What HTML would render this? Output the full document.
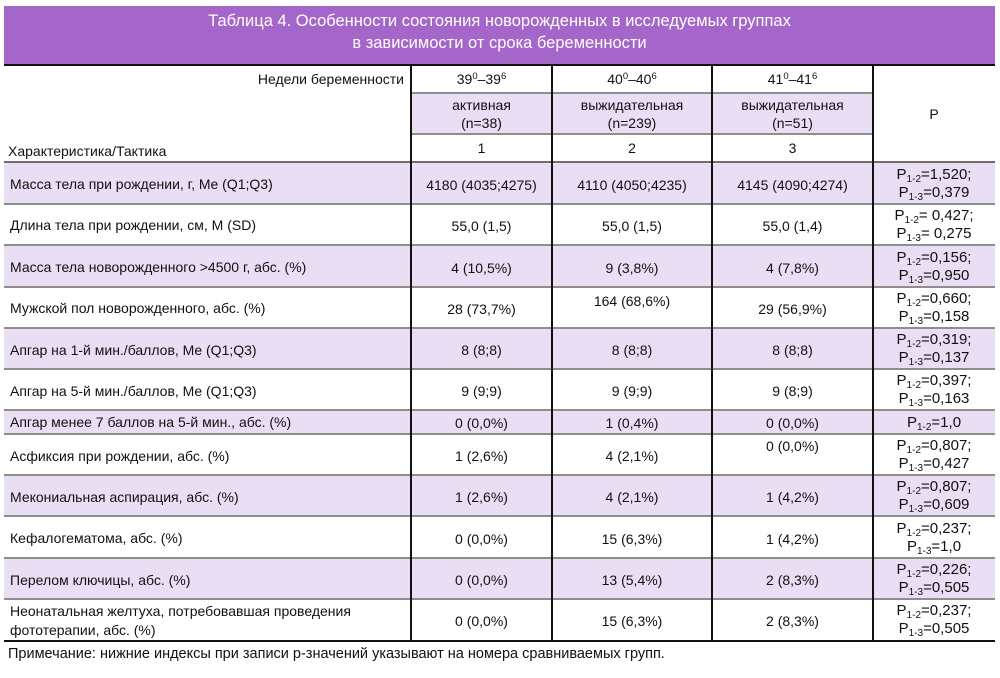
<!DOCTYPE html>
<html><head><meta charset="utf-8">
<style>
*{margin:0;padding:0;box-sizing:border-box}
html,body{width:1000px;height:678px;background:#fff;overflow:hidden}
body{position:relative;font-family:"Liberation Sans","DejaVu Sans",sans-serif;font-size:14px;color:#111}
.a{position:absolute}
.hdr{left:4px;top:6px;width:991px;height:58px;background:#a566c9;color:#fff;font-size:16.5px;text-align:center;line-height:22px;padding-top:4px}
.bk{background:#111}
.gl{background:#8e8e8e;height:2px}
.lav{background:#e9def3}
.c{position:absolute;display:flex;align-items:center;justify-content:center;text-align:center;line-height:18px}
.l{position:absolute;display:flex;align-items:center;line-height:19px;padding-left:6px}
.c span,.l span{display:block}
.p{line-height:18px;font-size:15px}
sub{font-size:9.5px;vertical-align:-3px;line-height:0}
.p sub{font-size:10px}
sup{font-size:9.5px;vertical-align:5px;line-height:0}
</style></head><body>
<div class="a hdr">Таблица 4. Особенности состояния новорожденных в исследуемых группах<br>в зависимости от срока беременности</div>
<div class="a bk" style="left:4px;top:64px;width:991px;height:2px"></div>

<div class="a lav" style="left:411px;top:93px;width:462px;height:41px"></div>
<div class="a lav" style="left:4px;top:162px;width:991px;height:42px"></div>
<div class="a lav" style="left:4px;top:245px;width:991px;height:42px"></div>
<div class="a lav" style="left:4px;top:328px;width:991px;height:41px"></div>
<div class="a lav" style="left:4px;top:410px;width:991px;height:24px"></div>
<div class="a lav" style="left:4px;top:475px;width:991px;height:41px"></div>
<div class="a lav" style="left:4px;top:558px;width:991px;height:41px"></div>

<div class="a gl" style="left:411px;top:92px;width:462px"></div>
<div class="a gl" style="left:411px;top:133px;width:462px"></div>
<div class="a gl" style="left:4px;top:161px;width:991px;background:#6e6e6e"></div>
<div class="a gl" style="left:4px;top:203px;width:991px"></div>
<div class="a gl" style="left:4px;top:244px;width:991px"></div>
<div class="a gl" style="left:4px;top:286px;width:991px"></div>
<div class="a gl" style="left:4px;top:327px;width:991px"></div>
<div class="a gl" style="left:4px;top:368px;width:991px"></div>
<div class="a gl" style="left:4px;top:409px;width:991px"></div>
<div class="a gl" style="left:4px;top:433px;width:991px"></div>
<div class="a gl" style="left:4px;top:474px;width:991px"></div>
<div class="a gl" style="left:4px;top:515px;width:991px"></div>
<div class="a gl" style="left:4px;top:557px;width:991px"></div>
<div class="a gl" style="left:4px;top:598px;width:991px"></div>

<div class="a bk" style="left:4px;top:640px;width:991px;height:2px"></div>
<div class="a bk" style="left:410px;top:66px;width:2px;height:575px"></div>
<div class="a bk" style="left:551px;top:66px;width:2px;height:575px"></div>
<div class="a bk" style="left:711px;top:66px;width:2px;height:575px"></div>
<div class="a bk" style="left:872px;top:66px;width:2px;height:575px"></div>

<div class="c" style="left:4px;top:66px;width:400px;height:26px;justify-content:flex-end"><span>Недели беременности</span></div>
<div class="c" style="left:412px;top:66px;width:139px;height:26px"><span>39<sup>0</sup>–39<sup>6</sup></span></div>
<div class="c" style="left:553px;top:66px;width:158px;height:26px"><span>40<sup>0</sup>–40<sup>6</sup></span></div>
<div class="c" style="left:713px;top:66px;width:159px;height:26px"><span>41<sup>0</sup>–41<sup>6</sup></span></div>
<div class="c" style="left:412px;top:94px;width:139px;height:40px"><span>активная<br>(n=38)</span></div>
<div class="c" style="left:553px;top:94px;width:158px;height:40px"><span>выжидательная<br>(n=239)</span></div>
<div class="c" style="left:713px;top:94px;width:159px;height:40px"><span>выжидательная<br>(n=51)</span></div>
<div class="c" style="left:412px;top:134px;width:139px;height:28px"><span>1</span></div>
<div class="c" style="left:553px;top:134px;width:158px;height:28px"><span>2</span></div>
<div class="c" style="left:713px;top:134px;width:159px;height:28px"><span>3</span></div>
<div class="c" style="left:874px;top:66px;width:120px;height:96px"><span>P</span></div>
<div class="l" style="left:2px;top:138px;width:400px;height:26px"><span>Характеристика/Тактика</span></div>

<div class="l" style="left:4px;top:164px;width:406px;height:41px"><span>Масса тела при рождении, г, Me (Q1;Q3)</span></div>
<div class="c" style="left:412px;top:164px;width:139px;height:41px"><span>4180 (4035;4275)</span></div>
<div class="c" style="left:553px;top:164px;width:158px;height:41px"><span>4110 (4050;4235)</span></div>
<div class="c" style="left:713px;top:164px;width:159px;height:41px"><span>4145 (4090;4274)</span></div>
<div class="c p" style="left:874px;top:163px;width:120px;height:41px"><span>P<sub>1-2</sub>=1,520;<br>P<sub>1-3</sub>=0,379</span></div>

<div class="l" style="left:4px;top:205px;width:406px;height:41px"><span>Длина тела при рождении, см, M (SD)</span></div>
<div class="c" style="left:412px;top:205px;width:139px;height:41px"><span>55,0 (1,5)</span></div>
<div class="c" style="left:553px;top:205px;width:158px;height:41px"><span>55,0 (1,5)</span></div>
<div class="c" style="left:713px;top:205px;width:159px;height:41px"><span>55,0 (1,4)</span></div>
<div class="c p" style="left:874px;top:204px;width:120px;height:41px"><span>P<sub>1-2</sub>= 0,427;<br>P<sub>1-3</sub>= 0,275</span></div>

<div class="l" style="left:4px;top:247px;width:406px;height:41px"><span>Масса тела новорожденного &gt;4500 г, абс. (%)</span></div>
<div class="c" style="left:412px;top:247px;width:139px;height:41px"><span>4 (10,5%)</span></div>
<div class="c" style="left:553px;top:247px;width:158px;height:41px"><span>9 (3,8%)</span></div>
<div class="c" style="left:713px;top:247px;width:159px;height:41px"><span>4 (7,8%)</span></div>
<div class="c p" style="left:874px;top:246px;width:120px;height:41px"><span>P<sub>1-2</sub>=0,156;<br>P<sub>1-3</sub>=0,950</span></div>

<div class="l" style="left:4px;top:288px;width:406px;height:41px"><span>Мужской пол новорожденного, абс. (%)</span></div>
<div class="c" style="left:412px;top:288px;width:139px;height:41px"><span>28 (73,7%)</span></div>
<div class="c" style="left:553px;top:287px;width:158px;height:27px"><span>164 (68,6%)</span></div>
<div class="c" style="left:713px;top:288px;width:159px;height:41px"><span>29 (56,9%)</span></div>
<div class="c p" style="left:874px;top:287px;width:120px;height:41px"><span>P<sub>1-2</sub>=0,660;<br>P<sub>1-3</sub>=0,158</span></div>

<div class="l" style="left:4px;top:330px;width:406px;height:40px"><span>Апгар на 1-й мин./баллов, Me (Q1;Q3)</span></div>
<div class="c" style="left:412px;top:330px;width:139px;height:40px"><span>8 (8;8)</span></div>
<div class="c" style="left:553px;top:330px;width:158px;height:40px"><span>8 (8;8)</span></div>
<div class="c" style="left:713px;top:330px;width:159px;height:40px"><span>8 (8;8)</span></div>
<div class="c p" style="left:874px;top:329px;width:120px;height:40px"><span>P<sub>1-2</sub>=0,319;<br>P<sub>1-3</sub>=0,137</span></div>

<div class="l" style="left:4px;top:371px;width:406px;height:40px"><span>Апгар на 5-й мин./баллов, Me (Q1;Q3)</span></div>
<div class="c" style="left:412px;top:371px;width:139px;height:40px"><span>9 (9;9)</span></div>
<div class="c" style="left:553px;top:371px;width:158px;height:40px"><span>9 (9;9)</span></div>
<div class="c" style="left:713px;top:371px;width:159px;height:40px"><span>9 (8;9)</span></div>
<div class="c p" style="left:874px;top:370px;width:120px;height:40px"><span>P<sub>1-2</sub>=0,397;<br>P<sub>1-3</sub>=0,163</span></div>

<div class="l" style="left:4px;top:411px;width:406px;height:23px"><span>Апгар менее 7 баллов на 5-й мин., абс. (%)</span></div>
<div class="c" style="left:412px;top:411px;width:139px;height:23px"><span>0 (0,0%)</span></div>
<div class="c" style="left:553px;top:411px;width:158px;height:23px"><span>1 (0,4%)</span></div>
<div class="c" style="left:713px;top:411px;width:159px;height:23px"><span>0 (0,0%)</span></div>
<div class="c p" style="left:874px;top:411px;width:120px;height:23px"><span>P<sub>1-2</sub>=1,0</span></div>

<div class="l" style="left:4px;top:436px;width:406px;height:40px"><span>Асфиксия при рождении, абс. (%)</span></div>
<div class="c" style="left:412px;top:436px;width:139px;height:40px"><span>1 (2,6%)</span></div>
<div class="c" style="left:553px;top:436px;width:158px;height:40px"><span>4 (2,1%)</span></div>
<div class="c" style="left:713px;top:435px;width:159px;height:22px"><span>0 (0,0%)</span></div>
<div class="c p" style="left:874px;top:435px;width:120px;height:40px"><span>P<sub>1-2</sub>=0,807;<br>P<sub>1-3</sub>=0,427</span></div>

<div class="l" style="left:4px;top:477px;width:406px;height:40px"><span>Мекониальная аспирация, абс. (%)</span></div>
<div class="c" style="left:412px;top:477px;width:139px;height:40px"><span>1 (2,6%)</span></div>
<div class="c" style="left:553px;top:477px;width:158px;height:40px"><span>4 (2,1%)</span></div>
<div class="c" style="left:713px;top:477px;width:159px;height:40px"><span>1 (4,2%)</span></div>
<div class="c p" style="left:874px;top:476px;width:120px;height:40px"><span>P<sub>1-2</sub>=0,807;<br>P<sub>1-3</sub>=0,609</span></div>

<div class="l" style="left:4px;top:518px;width:406px;height:41px"><span>Кефалогематома, абс. (%)</span></div>
<div class="c" style="left:412px;top:518px;width:139px;height:41px"><span>0 (0,0%)</span></div>
<div class="c" style="left:553px;top:518px;width:158px;height:41px"><span>15 (6,3%)</span></div>
<div class="c" style="left:713px;top:518px;width:159px;height:41px"><span>1 (4,2%)</span></div>
<div class="c p" style="left:874px;top:517px;width:120px;height:41px"><span>P<sub>1-2</sub>=0,237;<br>P<sub>1-3</sub>=1,0</span></div>

<div class="l" style="left:4px;top:560px;width:406px;height:40px"><span>Перелом ключицы, абс. (%)</span></div>
<div class="c" style="left:412px;top:560px;width:139px;height:40px"><span>0 (0,0%)</span></div>
<div class="c" style="left:553px;top:560px;width:158px;height:40px"><span>13 (5,4%)</span></div>
<div class="c" style="left:713px;top:560px;width:159px;height:40px"><span>2 (8,3%)</span></div>
<div class="c p" style="left:874px;top:559px;width:120px;height:40px"><span>P<sub>1-2</sub>=0,226;<br>P<sub>1-3</sub>=0,505</span></div>

<div class="l" style="left:4px;top:601px;width:406px;height:40px"><span>Неонатальная желтуха, потребовавшая проведения<br>фототерапии, абс. (%)</span></div>
<div class="c" style="left:412px;top:601px;width:139px;height:40px"><span>0 (0,0%)</span></div>
<div class="c" style="left:553px;top:601px;width:158px;height:40px"><span>15 (6,3%)</span></div>
<div class="c" style="left:713px;top:601px;width:159px;height:40px"><span>2 (8,3%)</span></div>
<div class="c p" style="left:874px;top:600px;width:120px;height:40px"><span>P<sub>1-2</sub>=0,237;<br>P<sub>1-3</sub>=0,505</span></div>

<div class="l" style="left:2px;top:644px;width:995px;height:20px;font-size:14.5px"><span>Примечание: нижние индексы при записи р-значений указывают на номера сравниваемых групп.</span></div>
</body></html>
